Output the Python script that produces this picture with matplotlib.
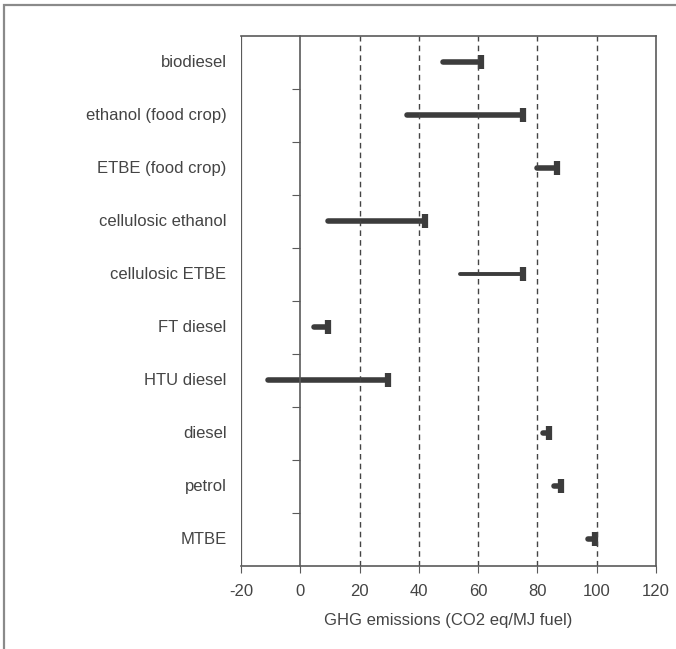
import matplotlib.pyplot as plt
import matplotlib.patches as mpatches
import numpy as np

plt.rcParams['font.family'] = ['Liberation Sans', 'DejaVu Sans']
plt.rcParams['axes.unicode_minus'] = False

fuels = ['biodiesel', 'ethanol (food crop)', 'ETBE (food crop)', 'cellulosic ethanol',
         'cellulosic ETBE', 'FT diesel', 'HTU diesel', 'diesel', 'petrol', 'MTBE']
low = [48, 36, 80, 9.5, 54, 4.5, -11, 82, 85.5, 97]
high = [61, 75, 86.5, 42, 75, 9.5, 29.5, 84, 88, 99.5]
thin = ['cellulosic ETBE']

ink = '#3c3c3c'
edge = '#5a5a5a'
txt = '#444444'

fig = plt.figure(figsize=(6.76, 6.49), dpi=100)
# outer frame, only left and top edges fall inside the picture
fig.patches.append(mpatches.Rectangle((4/676, -1), 2, 2 - 5/649, transform=fig.transFigure,
                                      fill=False, edgecolor='#8a8a8a', linewidth=1.6))
ax = fig.add_axes([241/676, 1 - 566/649, 415/676, 530/649])

n = len(fuels)
ypos = np.arange(n)
for i in range(n):
    lw = 2.8 if fuels[i] in thin else 4.0
    ax.plot([low[i], high[i]], [ypos[i], ypos[i]], color=ink, lw=lw,
            solid_capstyle='round')
    ax.plot(high[i], ypos[i], marker='|', color=ink, ms=10, mew=4.5)

for x in [20, 40, 60, 80, 100]:
    ax.axvline(x, color='#444444', lw=1, ls=(0, (4, 3)))

ax.set_xlim(-20, 120)
ax.set_ylim(n - 0.5, -0.5)
ax.set_xticks(np.arange(-20, 121, 20))
ax.tick_params(axis='x', direction='out', length=5, color=edge, labelsize=12,
               labelcolor=txt, pad=8)

# y axis sits at zero, ticks between categories
ax.spines['left'].set_position(('data', 0))
ax.set_yticks(np.arange(0.5, n - 0.5, 1))
ax.set_yticklabels([])
ax.tick_params(axis='y', direction='out', length=6, color=edge)
ax.axvline(-20, color=edge, lw=1.6)
for s in ax.spines.values():
    s.set_color(edge)
    s.set_linewidth(1.2)

for i in range(n):
    ax.text(-0.035, ypos[i], fuels[i], transform=ax.get_yaxis_transform(),
            ha='right', va='center', fontsize=12, color=txt)

ax.set_xlabel('GHG emissions (CO2 eq/MJ fuel)', fontsize=12, color=txt, labelpad=10)

plt.savefig('out.png', dpi=100)
